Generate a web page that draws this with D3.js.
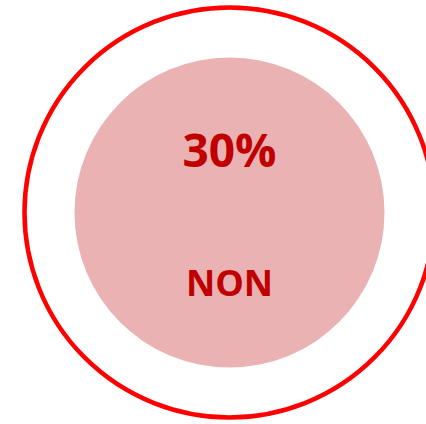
<!DOCTYPE html>
<html>
<head>
<meta charset="utf-8">
<script src="https://cdn.jsdelivr.net/npm/d3@7"></script>
<style>
  html, body { margin: 0; padding: 0; background: #fff; }
</style>
</head>
<body>
<div id="chart"></div>
<script>
//Chart Data
const labels = ["NON"];
const values = [30];

//Chart Variables and Constants
const width = 426;
const height = 424;
const cx = 229.5;
const cy = 212.5;

const svg = d3
  .select("#chart")
  .append("svg")
  .attr("width", width)
  .attr("height", height);

const g = svg.append("g").attr("transform", `translate(${cx}, ${cy})`);

//Outer ring (full 100%)
const ring = d3.pie().sort(null).value((d) => d)([100]);
const outerArc = d3.arc().innerRadius(205).outerRadius(205);
g.selectAll("path.ring")
  .data(ring)
  .enter()
  .append("path")
  .attr("class", "ring")
  .attr("d", outerArc)
  .attr("fill", "none")
  .attr("stroke", "#ff0000")
  .attr("stroke-width", 4.5);

//Inner disc
g.selectAll("circle.disc")
  .data(values)
  .enter()
  .append("circle")
  .attr("class", "disc")
  .attr("r", 155)
  .attr("fill", "#eab2b2");

//Value text
const fmt = d3.format(".0%");
g.selectAll("text.val")
  .data(values)
  .enter()
  .append("text")
  .attr("class", "val")
  .attr("x", 0)
  .attr("y", -46)
  .attr("text-anchor", "middle")
  .attr("font-family", "'Open Sans', sans-serif")
  .attr("font-weight", "bold")
  .attr("font-size", "46px")
  .attr("fill", "#c00000")
  .text((d) => fmt(d / 100));

//Label text
g.selectAll("text.lab")
  .data(labels)
  .enter()
  .append("text")
  .attr("class", "lab")
  .attr("x", 0)
  .attr("y", 83)
  .attr("text-anchor", "middle")
  .attr("font-family", "'Open Sans', sans-serif")
  .attr("font-weight", "bold")
  .attr("font-size", "36px")
  .attr("fill", "#c00000")
  .text((d) => d);
</script>
</body>
</html>
